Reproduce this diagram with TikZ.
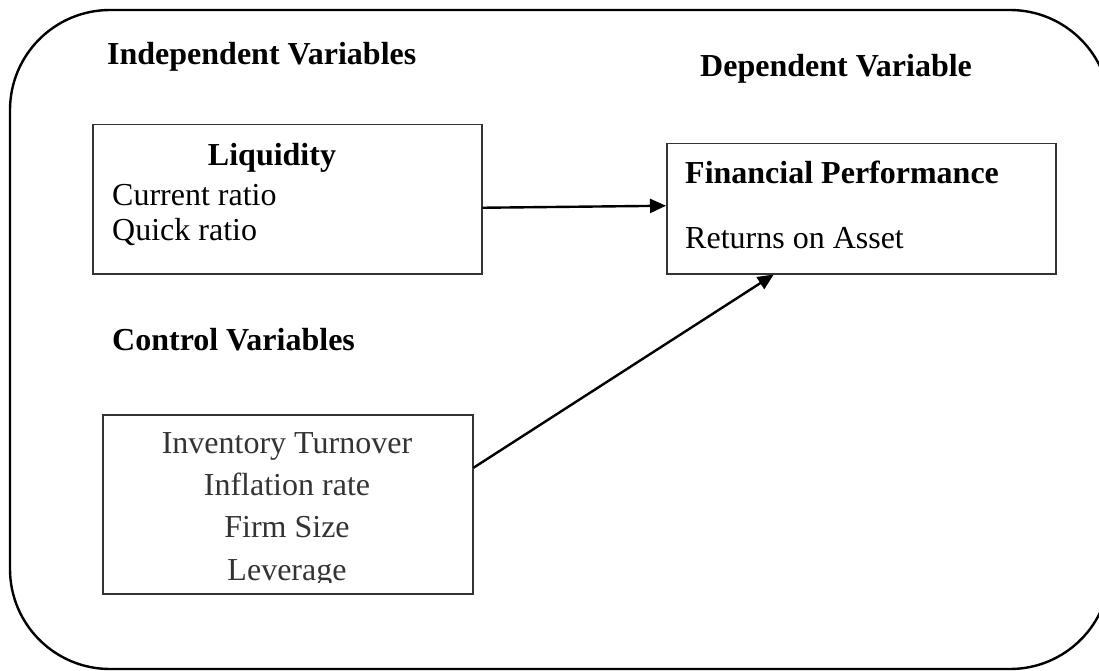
\documentclass[tikz,border=0pt]{standalone}
\usepackage{fontspec}
\setmainfont{Liberation Serif}
\usetikzlibrary{arrows.meta,calc}
\definecolor{boxgray}{HTML}{333333}
\tikzset{
  frame/.style={draw=boxgray,line width=1.5pt,minimum width=#1,inner sep=0pt,anchor=north west},
  txt/.style={font=\fontsize{32}{38}\selectfont,inner sep=0pt,anchor=base west},
  hd/.style={font=\fontsize{32}{38}\selectfont\bfseries,inner sep=0pt,anchor=base west},
  link/.style={line width=2.4pt,-{Triangle[length=16pt,width=14pt]}}
}
\begin{document}
\begin{tikzpicture}[x=1pt,y=-1pt]
\useasboundingbox (0,0) rectangle (1099,671);
\draw[line width=2.4pt,rounded corners=100pt] (10,10) rectangle (1110,669);

\node[hd] (ind) at (107,65) {Independent Variables};
\node[hd] (dep) at (700,77) {Dependent Variable};
\node[hd] (ctl) at (112,350) {Control Variables};

\node[frame=389pt,minimum height=149pt] (liq) at (92,124) {};
\node[hd,anchor=base] (liqt) at (272,165) {Liquidity};
\node[txt] (cr) at (112,205) {Current ratio};
\node[txt] (qr) at (112,240) {Quick ratio};

\node[frame=389pt,minimum height=130pt] (fp) at (666,143) {};
\node[hd] (fpt) at (685,183) {Financial Performance};
\node[txt] (roa) at (685,248) {Returns on Asset};

\node[frame=370pt,minimum height=179pt] (cv) at (102,414) {};
\begin{scope}
\clip (102,414) rectangle (472,582);
\node[txt,anchor=base,text=boxgray] (c1) at (287,453) {Inventory Turnover};
\node[txt,anchor=base,text=boxgray] (c2) at (287,495) {Inflation rate};
\node[txt,anchor=base,text=boxgray] (c3) at (287,537) {Firm Size};
\node[txt,anchor=base,text=boxgray] (c4) at (287,580) {Leverage};
\end{scope}

\draw[link] ([yshift=-8.5pt]liq.east) -- ([yshift=3pt]fp.west);
\draw[link] ([yshift=36.5pt]cv.east) -- ([xshift=-87.5pt]fp.south);
\end{tikzpicture}
\end{document}
